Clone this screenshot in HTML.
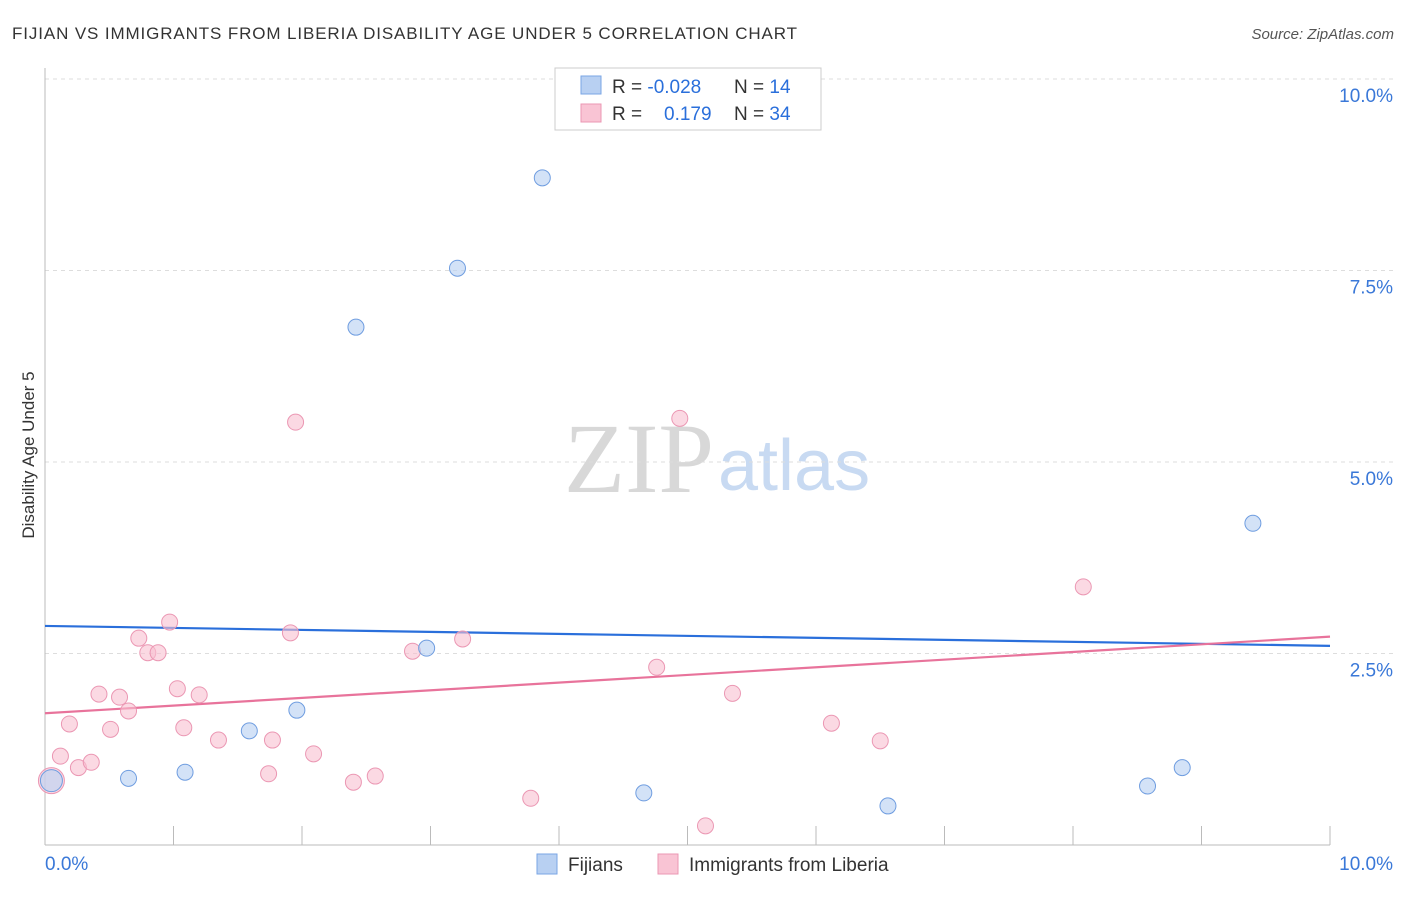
<!DOCTYPE html>
<html><head><meta charset="utf-8"><style>
body{margin:0;background:#fff;font-family:"Liberation Sans",sans-serif;}
svg text{font-family:"Liberation Sans",sans-serif;}
</style></head><body>
<svg id="chart" width="1406" height="892" xmlns="http://www.w3.org/2000/svg">
<text x="12" y="39" font-size="17" fill="#333" textLength="785">FIJIAN VS IMMIGRANTS FROM LIBERIA DISABILITY AGE UNDER 5 CORRELATION CHART</text>
<text x="1394" y="39" font-size="15" fill="#555" font-style="italic" text-anchor="end">Source: ZipAtlas.com</text>
<text x="714" y="492" font-size="100" fill="#d8d8d8" text-anchor="end" style="font-family:'Liberation Serif',serif">ZIP</text>
<text x="718" y="490" font-size="72" fill="#c8daf2">atlas</text>
<text transform="translate(34,455) rotate(-90)" font-size="17" fill="#333" text-anchor="middle">Disability Age Under 5</text>
<g id="grid"></g><g id="axes"></g><g id="lines"></g><g id="points"></g>
<g>
<rect x="555" y="68" width="266" height="62" fill="#fff" stroke="#ccc"/>
<rect x="581" y="76" width="20" height="18" fill="#b8d0f2" stroke="#7aa6e4"/>
<rect x="581" y="104" width="20" height="18" fill="#f9c4d4" stroke="#eb97b3"/>
<text x="612" y="93" font-size="19" fill="#333">R = <tspan fill="#2a6fdb">-0.028</tspan></text>
<text x="734" y="93" font-size="19" fill="#333">N = <tspan fill="#2a6fdb"> 14</tspan></text>
<text x="612" y="120" font-size="19" fill="#333">R = <tspan fill="#2a6fdb" x="664">0.179</tspan></text>
<text x="734" y="120" font-size="19" fill="#333">N = <tspan fill="#2a6fdb">34</tspan></text>
</g>
<g>
<rect x="537" y="854" width="20" height="20" fill="#b8d0f2" stroke="#7aa6e4"/>
<text x="568" y="871" font-size="19" fill="#333">Fijians</text>
<rect x="658" y="854" width="20" height="20" fill="#f9c4d4" stroke="#eb97b3"/>
<text x="689" y="871" font-size="19" fill="#333">Immigrants from Liberia</text>
</g>
</svg>
<script>
const blueX=[0.05,0.65,1.09,1.59,1.96,2.42,3.21,2.97,3.87,4.66,6.56,8.58,8.85,9.40];
const blueY=[0.84,0.87,0.95,1.49,1.76,6.76,7.53,2.57,8.71,0.68,0.51,0.77,1.01,4.20];
const pinkX=[0.05,0.12,0.19,0.26,0.36,0.42,0.51,0.58,0.65,0.73,0.80,0.88,0.97,1.03,1.08,1.20,1.35,1.74,1.77,1.91,1.95,2.09,2.40,2.57,2.86,3.25,3.78,4.76,4.94,5.14,5.35,6.12,6.50,8.08];
const pinkY=[0.84,1.16,1.58,1.01,1.08,1.97,1.51,1.93,1.75,2.70,2.51,2.51,2.91,2.04,1.53,1.96,1.37,0.93,1.37,2.77,5.52,1.19,0.82,0.90,2.53,2.69,0.61,2.32,5.57,0.25,1.98,1.59,1.36,3.37];
const blueLine=[2.86,2.60];
const pinkLine=[1.72,2.72];
const yTicks=[2.5,5.0,7.5,10.0];
const yTickLabels=["2.5%","5.0%","7.5%","10.0%"];
const NS="http://www.w3.org/2000/svg";
const X0=45,X1=1330,Y0=845,PXY=76.6;
const sx=v=>X0+(v/10)*(X1-X0);
const sy=v=>Y0-v*PXY;
function mk(tag,attrs,parent){const e=document.createElementNS(NS,tag);for(const k in attrs)e.setAttribute(k,attrs[k]);document.getElementById(parent).appendChild(e);return e;}
yTicks.forEach((t,i)=>{
 const g=mk('line',{x1:X0,x2:1394,y1:sy(t),y2:sy(t),stroke:'#ddd','stroke-dasharray':'4,4'},'grid');
 
 
 const l=mk('text',{x:1393,y:sy(t)+23,'font-size':19,fill:'#3a78d8','text-anchor':'end'},'grid');
 l.textContent=yTickLabels[i];
 
 
});
const ya=mk('line',{x1:X0,x2:X0,y1:68,y2:Y0,stroke:'#bbb'},'axes');


const xa=mk('line',{x1:X0,x2:X1,y1:Y0,y2:Y0,stroke:'#bbb'},'axes');


for(let i=0;i<=10;i++){
 const t=mk('line',{x1:sx(i),x2:sx(i),y1:826,y2:Y0,stroke:'#bbb'},'axes');
 
 
}
const xl0=mk('text',{x:45,y:870,'font-size':19,fill:'#3a78d8'},'axes');xl0.textContent='0.0%';


const xl1=mk('text',{x:1393,y:870,'font-size':19,fill:'#3a78d8','text-anchor':'end'},'axes');xl1.textContent='10.0%';


const bl=mk('line',{x1:sx(0),x2:sx(10),y1:sy(blueLine[0]),y2:sy(blueLine[1]),stroke:'#2a6fdb','stroke-width':2.2},'lines');


const pl=mk('line',{x1:sx(0),x2:sx(10),y1:sy(pinkLine[0]),y2:sy(pinkLine[1]),stroke:'#e8739b','stroke-width':2.2},'lines');


pinkX.forEach((x,i)=>{
 const c=mk('circle',{cx:sx(x),cy:sy(pinkY[i]),r:i===0?13:8,fill:'#f8bfd0','fill-opacity':0.6,stroke:'#eb97b3','stroke-width':1},'points');
 
 
});
blueX.forEach((x,i)=>{
 const c=mk('circle',{cx:sx(x),cy:sy(blueY[i]),r:i===0?11:8,fill:'#bcd3f3','fill-opacity':0.65,stroke:'#6f9de0','stroke-width':1},'points');
 
 
});
</script>
</body></html>
